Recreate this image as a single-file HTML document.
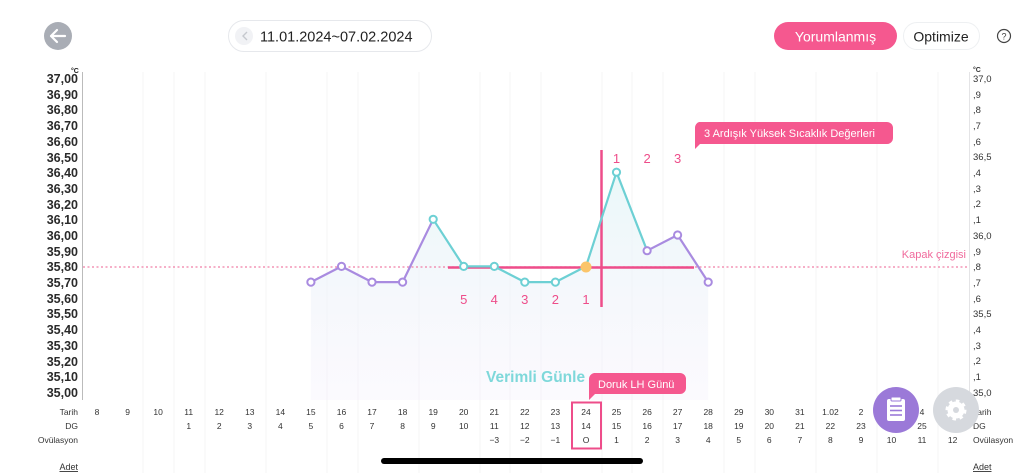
<!DOCTYPE html>
<html><head><meta charset="utf-8"><style>
html,body{margin:0;padding:0;background:#fff;width:1024px;height:473px;overflow:hidden}
svg{display:block;font-family:"Liberation Sans",sans-serif}
</style></head><body>
<svg width="1024" height="473" viewBox="0 0 1024 473" xmlns="http://www.w3.org/2000/svg">
<defs>
<linearGradient id="fill" x1="0" y1="0" x2="0" y2="1">
<stop offset="0" stop-color="#e8f7f8" stop-opacity="0.9"/>
<stop offset="1" stop-color="#f6f2fc" stop-opacity="0.4"/>
</linearGradient>
</defs>
<circle cx="58" cy="36" r="14" fill="#a9adb5"/>
<path d="M65 36H51M57 30l-6 6 6 6" stroke="#fff" stroke-width="2.2" fill="none" stroke-linecap="round" stroke-linejoin="round"/>
<rect x="228.5" y="20.5" width="203" height="31" rx="15.5" fill="#fff" stroke="#e6e8ec"/>
<circle cx="244" cy="36" r="9" fill="#f1f2f5"/>
<path d="M247 32l-4 4 4 4" stroke="#c5c8ce" stroke-width="1.4" fill="none"/>
<text x="260" y="41.5" font-size="14.5" fill="#222">11.01.2024~07.02.2024</text>
<rect x="774" y="22" width="123" height="28" rx="14" fill="#f5588f"/>
<text x="835.5" y="41.5" font-size="14" fill="#fff" text-anchor="middle">Yorumlanmış</text>
<rect x="903.5" y="22.5" width="76" height="27" rx="13.5" fill="#fff" stroke="#eef0f2"/>
<text x="941" y="41.5" font-size="14" fill="#222" text-anchor="middle">Optimize</text>
<circle cx="1004" cy="36" r="6.5" fill="none" stroke="#444" stroke-width="1.2"/>
<text x="1004" y="39.5" font-size="9" fill="#444" text-anchor="middle">?</text>

<g stroke="#f4f4f6" stroke-width="1">
<line x1="143" y1="72" x2="143" y2="473"/><line x1="174" y1="72" x2="174" y2="473"/><line x1="205" y1="72" x2="205" y2="473"/><line x1="266" y1="72" x2="266" y2="473"/><line x1="327" y1="72" x2="327" y2="473"/><line x1="358" y1="72" x2="358" y2="473"/><line x1="419" y1="72" x2="419" y2="473"/><line x1="480" y1="72" x2="480" y2="473"/><line x1="510" y1="72" x2="510" y2="473"/><line x1="541" y1="72" x2="541" y2="473"/><line x1="602" y1="72" x2="602" y2="473"/><line x1="632" y1="72" x2="632" y2="473"/><line x1="663" y1="72" x2="663" y2="473"/><line x1="724" y1="72" x2="724" y2="473"/><line x1="755" y1="72" x2="755" y2="473"/><line x1="816" y1="72" x2="816" y2="473"/><line x1="877" y1="72" x2="877" y2="473"/><line x1="938" y1="72" x2="938" y2="473"/>
</g>
<line x1="82.5" y1="72" x2="82.5" y2="400" stroke="#bbb"/>
<line x1="969.5" y1="72" x2="969.5" y2="400" stroke="#e4e4e6"/>

<g font-size="12.5" font-weight="bold" fill="#2a2a2a" text-anchor="end">
<text x="78" y="83">37,00</text><text x="78" y="99">36,90</text><text x="78" y="114">36,80</text><text x="78" y="130">36,70</text><text x="78" y="146">36,60</text><text x="78" y="162">36,50</text><text x="78" y="177">36,40</text><text x="78" y="193">36,30</text><text x="78" y="209">36,20</text><text x="78" y="224">36,10</text><text x="78" y="240">36,00</text><text x="78" y="256">35,90</text><text x="78" y="271">35,80</text><text x="78" y="287">35,70</text><text x="78" y="303">35,60</text><text x="78" y="318">35,50</text><text x="78" y="334">35,40</text><text x="78" y="350">35,30</text><text x="78" y="366">35,20</text><text x="78" y="381">35,10</text><text x="78" y="397">35,00</text>
</g>
<text x="71" y="73" font-size="7" fill="#222" font-weight="bold">°C</text>
<g font-size="9.5" fill="#333">
<text x="973" y="72" font-size="7" font-weight="bold">°C</text>
<text x="973" y="82">37,0</text><text x="973" y="98">,9</text><text x="973" y="113">,8</text><text x="973" y="129">,7</text><text x="973" y="145">,6</text><text x="973" y="160">36,5</text><text x="973" y="176">,4</text><text x="973" y="192">,3</text><text x="973" y="207">,2</text><text x="973" y="223">,1</text><text x="973" y="239">36,0</text><text x="973" y="255">,9</text><text x="973" y="270">,8</text><text x="973" y="286">,7</text><text x="973" y="302">,6</text><text x="973" y="317">35,5</text><text x="973" y="333">,4</text><text x="973" y="349">,3</text><text x="973" y="364">,2</text><text x="973" y="380">,1</text><text x="973" y="396">35,0</text>
</g>

<path d="M310.9 282.1L341.5 266.4L372 282.1L402.6 282.1L433.2 219.3L463.7 266.4L494.3 266.4L524.8 282.1L555.4 282.1L586 266.4L616.5 172.2L647.1 250.7L677.6 235L708.2 282.1L708.2 400L310.9 400Z" fill="url(#fill)"/>

<line x1="83" y1="267" x2="969" y2="267" stroke="#f07fa6" stroke-width="1.2" stroke-dasharray="2,2.5"/>
<text x="966" y="258" font-size="11" fill="#f06a9c" text-anchor="end">Kapak çizgisi</text>

<line x1="448" y1="267.5" x2="694" y2="267.5" stroke="#ee4d8a" stroke-width="2.5"/>
<line x1="601.5" y1="150" x2="601.5" y2="307" stroke="#ee4d8a" stroke-width="2.5"/>
<g font-size="13" fill="#ee4d8a" text-anchor="middle">
<text x="463.7" y="304">5</text><text x="494.3" y="304">4</text><text x="524.8" y="304">3</text><text x="555.4" y="304">2</text><text x="586" y="304">1</text>
<text x="616.5" y="163">1</text><text x="647.1" y="163">2</text><text x="677.6" y="163">3</text>
</g>

<g fill="none" stroke-width="2.2" stroke-linejoin="round">
<path d="M310.9 282.1L341.5 266.4L372 282.1L402.6 282.1L433.2 219.3" stroke="#a98be0"/>
<path d="M433.2 219.3L463.7 266.4L494.3 266.4L524.8 282.1L555.4 282.1L586 266.4L616.5 172.2L647.1 250.7" stroke="#6dd0d4"/>
<path d="M647.1 250.7L677.6 235L708.2 282.1" stroke="#a98be0"/>
</g>
<g fill="#fff" stroke-width="2">
<circle cx="310.9" cy="282.1" r="3.6" stroke="#a98be0"/><circle cx="341.5" cy="266.4" r="3.6" stroke="#a98be0"/><circle cx="372" cy="282.1" r="3.6" stroke="#a98be0"/><circle cx="402.6" cy="282.1" r="3.6" stroke="#a98be0"/>
<circle cx="433.2" cy="219.3" r="3.6" stroke="#6dd0d4"/><circle cx="463.7" cy="266.4" r="3.6" stroke="#6dd0d4"/><circle cx="494.3" cy="266.4" r="3.6" stroke="#6dd0d4"/><circle cx="524.8" cy="282.1" r="3.6" stroke="#6dd0d4"/><circle cx="555.4" cy="282.1" r="3.6" stroke="#6dd0d4"/><circle cx="616.5" cy="172.2" r="3.6" stroke="#6dd0d4"/>
<circle cx="647.1" cy="250.7" r="3.6" stroke="#a98be0"/><circle cx="677.6" cy="235" r="3.6" stroke="#a98be0"/><circle cx="708.2" cy="282.1" r="3.6" stroke="#a98be0"/>
</g>
<circle cx="586" cy="267" r="5.5" fill="#fbc56a"/>

<path d="M699 122H887a6 6 0 0 1 6 6V138a6 6 0 0 1 -6 6H700L695 149V128a6 6 0 0 1 4-6Z" fill="#f5588f"/>
<text x="704" y="137" font-size="11" fill="#fff">3 Ardışık Yüksek Sıcaklık Değerleri</text>

<text x="486" y="382" font-size="15.5" font-weight="bold" fill="#7ed8da">Verimli Günle</text>
<path d="M594 373H680a6 6 0 0 1 6 6V388a6 6 0 0 1 -6 6H595L589 400V379a6 6 0 0 1 5-6Z" fill="#f5588f"/>
<text x="598" y="388" font-size="11" fill="#fff">Doruk LH Günü</text>
<rect x="572" y="402.5" width="29" height="46" fill="none" stroke="#ee4d8a" stroke-width="2"/>

<g font-size="8.5" fill="#333" text-anchor="middle">
<text x="78" y="415" text-anchor="end">Tarih</text><text x="78" y="429" text-anchor="end">DG</text><text x="78" y="443" text-anchor="end">Ovülasyon</text>
<text x="97" y="415">8</text><text x="127.6" y="415">9</text><text x="158.1" y="415">10</text><text x="188.7" y="415">11</text><text x="219.2" y="415">12</text><text x="249.8" y="415">13</text><text x="280.4" y="415">14</text><text x="310.9" y="415">15</text><text x="341.5" y="415">16</text><text x="372" y="415">17</text><text x="402.6" y="415">18</text><text x="433.2" y="415">19</text><text x="463.7" y="415">20</text><text x="494.3" y="415">21</text><text x="524.8" y="415">22</text><text x="555.4" y="415">23</text><text x="586" y="415">24</text><text x="616.5" y="415">25</text><text x="647.1" y="415">26</text><text x="677.6" y="415">27</text><text x="708.2" y="415">28</text><text x="738.8" y="415">29</text><text x="769.3" y="415">30</text><text x="799.9" y="415">31</text><text x="830.4" y="415">1.02</text><text x="861" y="415">2</text><text x="922" y="415">4</text>
<text x="188.7" y="429">1</text><text x="219.2" y="429">2</text><text x="249.8" y="429">3</text><text x="280.4" y="429">4</text><text x="310.9" y="429">5</text><text x="341.5" y="429">6</text><text x="372" y="429">7</text><text x="402.6" y="429">8</text><text x="433.2" y="429">9</text><text x="463.7" y="429">10</text><text x="494.3" y="429">11</text><text x="524.8" y="429">12</text><text x="555.4" y="429">13</text><text x="586" y="429">14</text><text x="616.5" y="429">15</text><text x="647.1" y="429">16</text><text x="677.6" y="429">17</text><text x="708.2" y="429">18</text><text x="738.8" y="429">19</text><text x="769.3" y="429">20</text><text x="799.9" y="429">21</text><text x="830.4" y="429">22</text><text x="861" y="429">23</text><text x="922" y="429">25</text>
<text x="494.3" y="443">−3</text><text x="524.8" y="443">−2</text><text x="555.4" y="443">−1</text><text x="586" y="443">O</text><text x="616.5" y="443">1</text><text x="647.1" y="443">2</text><text x="677.6" y="443">3</text><text x="708.2" y="443">4</text><text x="738.8" y="443">5</text><text x="769.3" y="443">6</text><text x="799.9" y="443">7</text><text x="830.4" y="443">8</text><text x="861" y="443">9</text><text x="891.5" y="443">10</text><text x="922" y="443">11</text><text x="952.6" y="443">12</text>
<text x="973" y="415" text-anchor="start">Tarih</text><text x="973" y="429" text-anchor="start">DG</text><text x="973" y="443" text-anchor="start">Ovülasyon</text>
</g>
<text x="78" y="470" font-size="9" fill="#333" text-anchor="end" text-decoration="underline">Adet</text>
<text x="973" y="470" font-size="9" fill="#333" text-decoration="underline">Adet</text>

<circle cx="896" cy="410" r="23" fill="#9b79d8"/>
<rect x="887" y="399" width="18" height="22" rx="2" fill="#fff"/>
<rect x="891" y="397" width="10" height="4" rx="1" fill="#fff" stroke="#9b79d8" stroke-width="1"/>
<g stroke="#9b79d8" stroke-width="1.6"><line x1="890" y1="406" x2="902" y2="406"/><line x1="890" y1="410.5" x2="902" y2="410.5"/><line x1="890" y1="415" x2="902" y2="415"/></g>
<circle cx="956" cy="410" r="23" fill="#d6d9de"/>
<circle cx="956" cy="410" r="8.5" fill="#fff" stroke="#fff" stroke-width="4" stroke-dasharray="3.3,3.3"/>
<circle cx="956" cy="410" r="3" fill="#d6d9de"/>

<rect x="381" y="458" width="262" height="6" rx="3" fill="#000"/>
</svg>
</body></html>
